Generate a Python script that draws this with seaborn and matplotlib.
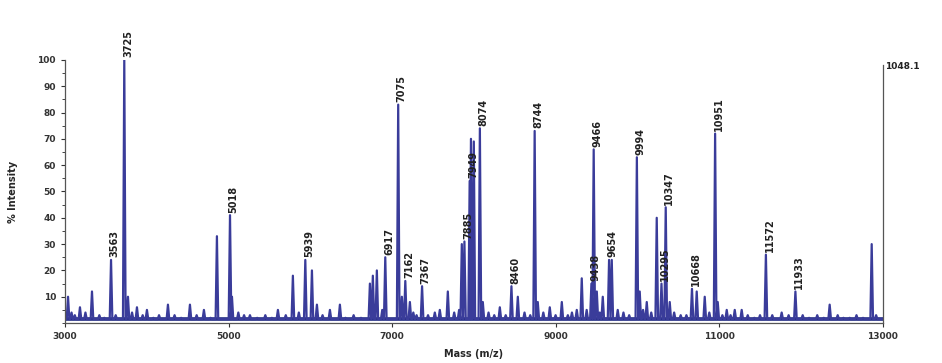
import numpy as np
import pandas as pd
import matplotlib
matplotlib.use("Agg")
import matplotlib.pyplot as plt
import seaborn as sns

sns.set_style("ticks")
plt.rcParams["font.family"] = ["DejaVu Sans"]

# labelled peaks: m/z, % intensity
label_mz = [3563, 3725, 5018, 5939, 6917, 7075, 7162, 7367, 7885, 7949, 8074,
            8460, 8744, 9438, 9466, 9654, 9994, 10295, 10347, 10668, 10951,
            11572, 11933]
label_int = [24, 100, 41, 24, 25, 83, 16, 14, 31, 54, 74,
             14, 73, 15, 66, 24, 63, 15, 44, 13, 72,
             26, 12]

# unlabelled peaks
other_mz = [3037, 3183, 3330, 3770, 3880, 4002, 4259, 4528, 4699, 4858, 5042,
            5262, 5604, 5787, 6020, 6081, 6240, 6362, 6729, 6765, 6814, 7120,
            7218, 7523, 7584, 7682, 7853, 7965, 8000, 8110, 8318, 8538, 8782,
            8929, 9076, 9259, 9320, 9504, 9577, 9687, 10029, 10115, 10237,
            10396, 10726, 10824, 10983, 11093, 11191, 11276, 11765, 12022,
            12352, 12597, 12866]
other_int = [10, 6, 12, 10, 6, 5, 7, 7, 5, 33, 10,
             3, 5, 18, 20, 7, 5, 7, 15, 18, 20, 10,
             8, 4, 5, 12, 30, 70, 69, 8, 6, 10, 8,
             6, 8, 5, 17, 12, 10, 24, 12, 8, 40,
             8, 12, 10, 8, 5, 5, 5, 4, 3,
             7, 2, 30]

# baseline noise
noise_mz = [3080, 3120, 3250, 3420, 3480, 3620, 3820, 3950, 4080, 4150, 4340,
            4420, 4610, 4780, 5120, 5190, 5350, 5450, 5530, 5700, 5860, 6150,
            6430, 6530, 6620, 6880, 7260, 7300, 7440, 7760, 7820, 8180, 8250,
            8390, 8620, 8690, 8850, 9000, 9150, 9200, 9380, 9540, 9760, 9830,
            9900, 10070, 10170, 10450, 10530, 10600, 10880, 11040, 11140,
            11350, 11430, 11500, 11650, 11850, 12100, 12200, 12280, 12450,
            12520, 12680, 12760, 12920]
noise_int = [4, 3, 4, 3, 2, 3, 4, 3, 2, 3, 3,
             2, 3, 2, 4, 3, 2, 3, 2, 3, 4, 3,
             2, 3, 2, 5, 4, 3, 3, 4, 5, 4, 3,
             3, 4, 3, 4, 3, 3, 4, 5, 4, 5, 4,
             3, 5, 4, 4, 3, 3, 4, 3, 3,
             3, 2, 3, 3, 3, 2, 3, 2, 3,
             2, 3, 2, 3]

baseline = 1.5
half_width = 16

peaks = sorted(zip(label_mz + other_mz + noise_mz,
                   label_int + other_int + noise_int))
rows = [(3000, baseline)]
for m, h in peaks:
    rows += [(m - half_width, baseline), (m, h), (m + half_width, baseline)]
rows.append((13000, baseline))
df = pd.DataFrame(rows, columns=["mz", "intensity"])

fig = plt.figure(figsize=(9.42, 3.63), dpi=100)
ax = fig.add_axes([0.069, 0.110, 0.868, 0.725])

sns.lineplot(data=df, x="mz", y="intensity", sort=False, estimator=None,
             color="#3a3c9a", lw=1.6, ax=ax)
ax.axhline(baseline, color="#1f2a80", lw=2.6, zorder=1)

for m, h in zip(label_mz, label_int):
    ax.text(m + 45, h + 1, str(m), rotation=90, ha="center", va="bottom",
            fontsize=7, fontweight="bold", color="#222222", clip_on=False)

ax.set_xlim(3000, 13000)
ax.set_ylim(0, 100)
ax.set_xticks(range(3000, 13001, 2000))
ax.set_yticks(range(10, 101, 10))
ax.set_yticks(range(0, 101, 5), minor=True)
ax.tick_params(labelsize=6.5, length=3, width=0.8, colors="#333333")
ax.tick_params(which="minor", length=2)
for lab in ax.get_xticklabels() + ax.get_yticklabels():
    lab.set_fontweight("bold")

ax.set_xlabel("Mass (m/z)", fontsize=7, fontweight="bold", labelpad=6)
ax.set_ylabel("% Intensity", fontsize=7, fontweight="bold", labelpad=14)

ax.spines["top"].set_visible(False)
ax.spines["right"].set_bounds(0, 98)
for s in ax.spines.values():
    s.set_color("#555555")
    s.set_linewidth(0.9)
ax.text(1.003, 0.975, "1048.1", transform=ax.transAxes, fontsize=6.5,
        fontweight="bold", ha="left", va="center", color="#222222")

fig.savefig("out.png", dpi=100)
